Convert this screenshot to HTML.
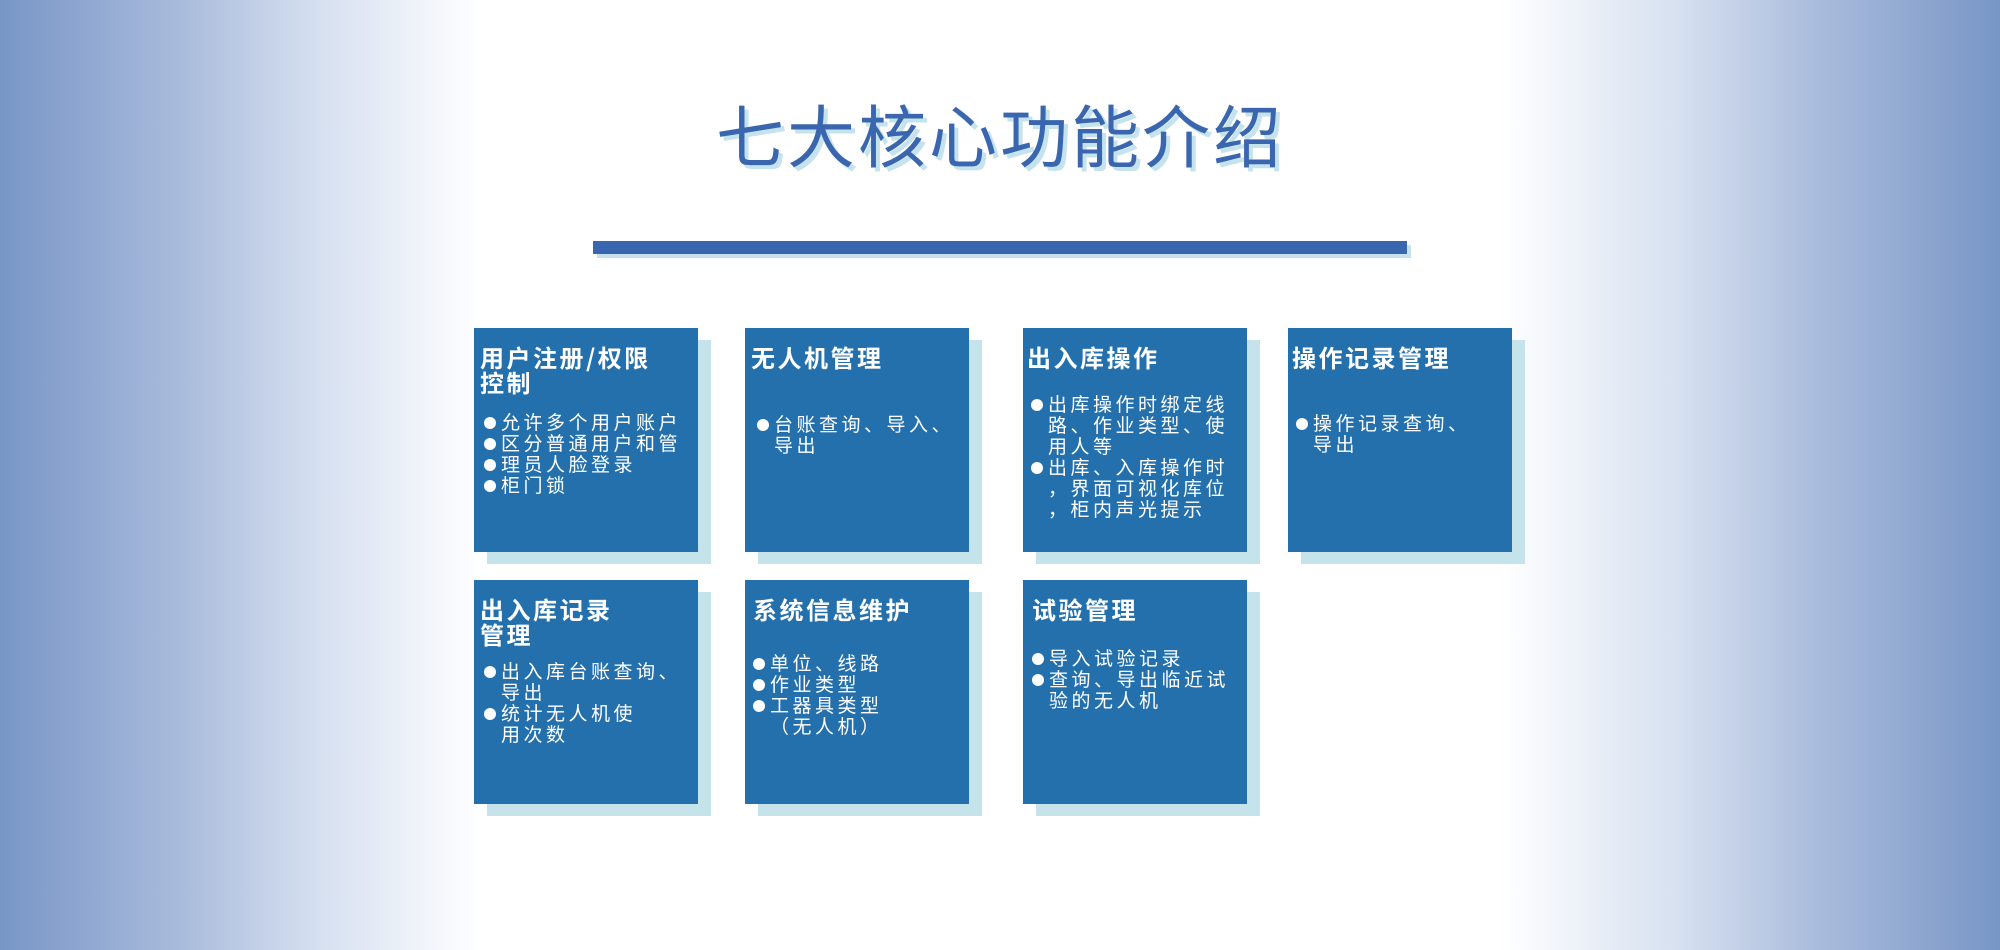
<!DOCTYPE html>
<html><head><meta charset="utf-8"><style>
html,body{margin:0;padding:0}
body{width:2000px;height:950px;position:relative;overflow:hidden;
background:linear-gradient(to right,#7896c6 0%,#a9bbdc 9%,#d6e0f0 16%,#ffffff 24%,#ffffff 75%,#d6e0f0 84%,#a9bbdc 91%,#7896c6 100%);
font-family:"Liberation Sans","Noto Sans CJK SC",sans-serif}
.title{position:absolute;left:600px;width:800px;top:88px;text-align:center;font-size:68px;line-height:90px;color:#3a66b0;letter-spacing:3px;text-shadow:4px 4px 0 #c4e3ec;font-family:"Noto Sans CJK SC",sans-serif;font-weight:400}
.bar{position:absolute;left:593px;top:241px;width:814px;height:13px;background:#3a66b0;box-shadow:4px 4px 0 #c4e3ec}
.card{position:absolute;width:224px;height:224px;background:#2470ad;box-shadow:13px 12px 0 #c5e3ea;color:#fff}
.t{position:absolute;left:6px;top:16px;font-size:24px;line-height:25px;font-weight:bold;letter-spacing:2.5px;font-family:"Noto Sans CJK SC",sans-serif}
.b{position:absolute;font-size:19px;line-height:21px;letter-spacing:3.5px;white-space:nowrap;font-family:"Noto Sans CJK SC",sans-serif}
.b div{padding-left:17px;position:relative}
.b div.bl:before{content:"";position:absolute;left:0;top:6px;width:12px;height:12px;border-radius:50%;background:#fff}
</style></head><body>
<div class="title">七大核心功能介绍</div>
<div class="bar"></div>

<div class="card" style="left:474px;top:328px">
<div class="t">用户注册/权限<br>控制</div>
<div class="b" style="left:10px;top:83px">
<div class="bl">允许多个用户账户</div>
<div class="bl">区分普通用户和管</div>
<div class="bl">理员人脸登录</div>
<div class="bl">柜门锁</div>
</div></div>

<div class="card" style="left:745px;top:328px">
<div class="t">无人机管理</div>
<div class="b" style="left:12px;top:85px">
<div class="bl">台账查询、导入、</div>
<div>导出</div>
</div></div>

<div class="card" style="left:1023px;top:328px">
<div class="t" style="left:4px">出入库操作</div>
<div class="b" style="left:8px;top:65px">
<div class="bl">出库操作时绑定线</div>
<div>路、作业类型、使</div>
<div>用人等</div>
<div class="bl">出库、入库操作时</div>
<div>，界面可视化库位</div>
<div>，柜内声光提示</div>
</div></div>

<div class="card" style="left:1288px;top:328px">
<div class="t" style="left:4px">操作记录管理</div>
<div class="b" style="left:8px;top:84px">
<div class="bl">操作记录查询、</div>
<div>导出</div>
</div></div>

<div class="card" style="left:474px;top:580px">
<div class="t">出入库记录<br>管理</div>
<div class="b" style="left:10px;top:80px">
<div class="bl">出入库台账查询、</div>
<div>导出</div>
<div class="bl">统计无人机使</div>
<div>用次数</div>
</div></div>

<div class="card" style="left:745px;top:580px">
<div class="t" style="left:8px">系统信息维护</div>
<div class="b" style="left:8px;top:72px">
<div class="bl">单位、线路</div>
<div class="bl">作业类型</div>
<div class="bl">工器具类型</div>
<div>（无人机）</div>
</div></div>

<div class="card" style="left:1023px;top:580px">
<div class="t" style="left:9px">试验管理</div>
<div class="b" style="left:9px;top:67px">
<div class="bl">导入试验记录</div>
<div class="bl">查询、导出临近试</div>
<div>验的无人机</div>
</div></div>
</body></html>
